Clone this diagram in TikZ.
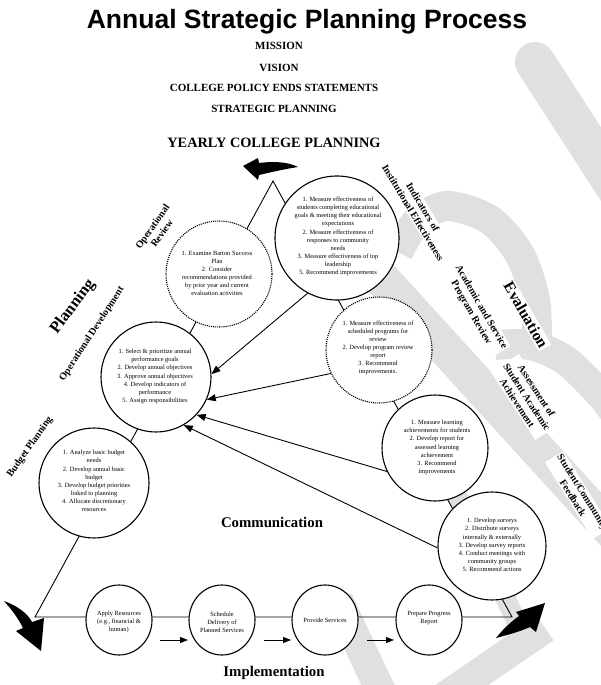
\documentclass[tikz,border=0pt]{standalone}
\usepackage{fontspec}
\setmainfont{Liberation Serif}
\newfontfamily\arialfont{Liberation Sans}
\usetikzlibrary{arrows.meta,shapes.geometric}
\tikzset{
  wm/.style={draw=black!12, line width=30pt},
  bub/.style={circle, draw=black, line width=1.1pt, fill=white, inner sep=0pt},
  dotbub/.style={bub, densely dotted},
  oval/.style={ellipse, draw=black, line width=1.1pt, fill=white, inner sep=0pt, minimum width=66pt, minimum height=70pt},
  txt/.style={font=\fontsize{6.4}{8.1}\selectfont, align=center, inner sep=0pt},
  lab/.style={font=\bfseries\fontsize{10}{11.5}\selectfont, align=center, fill=white, inner sep=1.5pt},
  biglab/.style={font=\bfseries\fontsize{16.5}{18}\selectfont, align=center, fill=white, inner sep=1.5pt},
  head/.style={font=\bfseries\fontsize{11}{12}\selectfont, anchor=base},
  edge/.style={line width=0.9pt},
  arr/.style={line width=0.9pt, -{Triangle[length=9pt,width=7pt]}},
  sarr/.style={line width=0.9pt, -{Triangle[length=8pt,width=6pt]}},
}
\begin{document}
\begin{tikzpicture}[x=1pt,y=-1pt]
\useasboundingbox (0,0) rectangle (601,685);
\fill[white] (0,0) rectangle (601,685);
% watermark
\draw[wm, line width=40pt, line cap=round] (535,62) -- (650,240);
\draw[wm] plot[smooth] coordinates {(398,252) (418,220) (448,206) (490,220) (520,255) (535,300) (537,345)};
\draw[wm, line width=36pt] (372,268) -- (620,540);
\draw[wm] plot[smooth] coordinates {(495,345) (530,345) (565,360) (601,395) (620,420)};
\draw[wm, line width=20pt] (445,470) -- (530,650);
\draw[wm] (338,600) -- (385,700);
\draw[wm] (545,628) -- (440,700);
% headings
\node[font=\arialfont\bfseries\fontsize{26.5}{30}\selectfont, anchor=base] (title) at (307,29) {Annual Strategic Planning Process};
\node[head] (mission) at (279,50) {MISSION};
\node[head] (vision) at (279,71) {VISION};
\node[head] (ends) at (274,92) {COLLEGE POLICY ENDS STATEMENTS};
\node[head] (strat) at (274,112) {STRATEGIC PLANNING};
\node[head, font=\bfseries\fontsize{14.3}{15}\selectfont] (yearly) at (274,147) {YEARLY COLLEGE PLANNING};
% triangle
\coordinate (apex) at (273,181);
\coordinate (bl) at (35,617);
\coordinate (br) at (512,617);
\draw[edge] (bl) -- (apex) -- (br) -- cycle;
% corner arrows
\fill[black] (243,166) -- (258,158) -- (259,163) .. controls (275,161) and (288,162) .. (298,167) .. controls (285,169) and (272,172) .. (259,175) -- (258,180) -- cycle;
\fill[black] (4,601) .. controls (18,606) and (28,614) .. (32,622) -- (44,618) -- (41,651) -- (16,631) -- (23,628) .. controls (18,618) and (12,610) .. (4,601) -- cycle;
\fill[black] (496,638) .. controls (504,628) and (512,621) .. (519,616) -- (516,612) -- (545,603) -- (536,632) -- (530,627) .. controls (519,632) and (507,635) .. (496,638) -- cycle;
% circles
\node[dotbub, minimum size=106pt] (oprev) at (219,274) {};
\node[bub, minimum size=124pt] (ind) at (337,238) {};
\node[bub, minimum size=110pt] (opdev) at (156,377) {};
\node[bub, minimum size=110pt] (budget) at (94,483) {};
\node[dotbub, minimum size=106pt] (acad) at (379,350) {};
\node[bub, minimum size=106pt] (ach) at (435,448) {};
\node[bub, minimum size=108pt] (comm) at (492,546) {};
% bottom ovals
\node[oval] (apply) at (119,620) {};
\node[oval] (sched) at (222,620) {};
\node[oval] (prov) at (325,620) {};
\node[oval] (prep) at (429,620) {};
% circle texts
\node[txt] (indt) at (338,236.5) {1. Measure effectiveness of\\students completing educational\\goals \& meeting their educational\\expectations\\2. Measure effectiveness of\\responses to community\\needs\\3. Measure effectiveness of top\\leadership\\5. Recommend improvements};
\node[txt] (oprevt) at (217,273.5) {1. Examine Barton Success\\Plan\\2. Consider\\recommendations provided\\by prior year and current\\evaluation activities};
\node[txt] (opdevt) at (155,376.5) {1. Select \& prioritize annual\\performance goals\\2. Develop annual objectives\\3. Approve annual objectives\\4. Develop indicators of\\performance\\5. Assign responsibilities};
\node[txt] (budgett) at (94,481) {1. Analyze basic budget\\needs\\2. Develop annual basic\\budget\\3. Develop budget priorities\\linked to planning\\4. Allocate discretionary\\resources};
\node[txt] (acadt) at (378,348) {1. Measure effectiveness of\\scheduled programs for\\review\\2. Develop program review\\report\\3. Recommend\\improvements.};
\node[txt] (acht) at (437,447.5) {1. Measure learning\\achievements for students\\2. Develop report for\\assessed learning\\achievement\\3. Recommend\\improvements};
\node[txt] (commt) at (492,545) {1. Develop surveys\\2. Distribute surveys\\internally \& externally\\3. Develop survey reports\\4. Conduct meetings with\\community groups\\5. Recommend actions};
\node[txt] (applyt) at (119,622) {Apply Resources\\(e.g., financial \&\\human)};
\node[txt] (schedt) at (222,622) {Schedule\\Delivery of\\Planned Services};
\node[txt] (provt) at (325,620) {Provide Services};
\node[txt] (prept) at (429,618) {Prepare Progress\\Report};
% arrows into Operational Development
\draw[arr] (ind.242) -- (opdev.3);
\draw[arr] (acad.206) -- (opdev.-24);
\draw[arr] (ach.206) -- (opdev.-43);
\draw[arr] (comm.182) -- (opdev.-60);
% implementation arrows
\coordinate (s1) at (160,640); \coordinate (e1) at (188,640);
\coordinate (s2) at (264,640); \coordinate (e2) at (291,640);
\coordinate (s3) at (367,640); \coordinate (e3) at (394,640);
\draw[sarr] (s1) -- (e1);
\draw[sarr] (s2) -- (e2);
\draw[sarr] (s3) -- (e3);
% labels
\node[lab, rotate=55] (oprevl) at (157,230) {Operational\\Review};
\node[biglab, rotate=53] (planl) at (73,307) {Planning};
\node[lab, rotate=57] (opdevl) at (92,334) {Operational Development};
\node[lab, rotate=55] (budl) at (30,447) {Budget Planning};
\node[lab, rotate=-59] (indl) at (418,210) {Indicators of\\Institutional Effectiveness};
\node[lab, rotate=-60] (acadl) at (476,310) {Academic and Service\\Program Review};
\node[biglab, font=\bfseries\fontsize{15.7}{17}\selectfont, rotate=-60] (evall) at (526,315) {Evaluation};
\node[lab, rotate=-57] (assl) at (527,397) {Assessment of\\Student Academic\\Achievement};
\node[lab, rotate=-58] (stul) at (578,495) {Student/Community\\Feedback};
\node[font=\bfseries\fontsize{14.8}{16}\selectfont, anchor=base] (commun) at (272,527) {Communication};
\node[font=\bfseries\fontsize{14.8}{16}\selectfont, anchor=base] (impl) at (274,676) {Implementation};
\end{tikzpicture}
\end{document}
